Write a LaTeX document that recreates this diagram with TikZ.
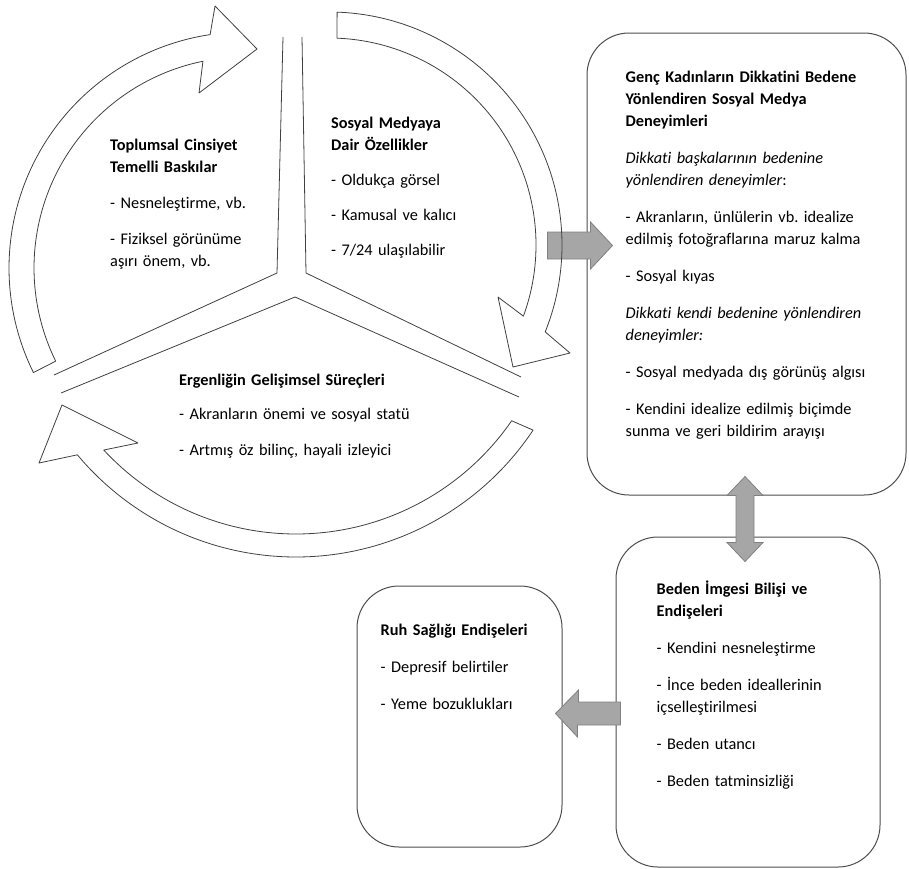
\documentclass[tikz,border=0pt]{standalone}
\usepackage{fontspec}
\setmainfont{Carlito}[Ligatures={TeX,NoCommon}]
\frenchspacing
\usetikzlibrary{positioning,calc}
\definecolor{edge}{HTML}{404040}
\definecolor{cardline}{HTML}{4D4D4D}
\definecolor{blockfill}{HTML}{A6A6A6}
\definecolor{blockline}{HTML}{808080}

\begin{document}
\begin{tikzpicture}[x=1pt,y=-1pt,font=\fontsize{16.3}{22}\selectfont,
            cyc/.style={draw=edge,line width=0.8pt,line join=round},
            card/.style={draw=cardline,line width=1pt,rounded corners=42pt,inner sep=0pt},
            txt/.style={anchor=base west,inner sep=0pt,text width=300pt,align=left},
            blockarr/.style={fill=blockfill,draw=blockline,line width=0.8pt,line join=miter}]
          \useasboundingbox (0,0) rectangle (909,868);
          % boxes
          \node[card,minimum width=319pt,minimum height=462pt] (genc) at (746.5,264) {};
          \node[card,minimum width=264pt,minimum height=330pt] (beden) at (748,702) {};
          \node[card,minimum width=205pt,minimum height=261pt] (ruh) at (459.5,716.5) {};
          \node[txt] (gencT) at ($(genc.north west)+(39,50)$) {\textbf{Genç Kadınların Dikkatini Bedene}\\\textbf{Yönlendiren Sosyal Medya}\\\textbf{Deneyimleri}\\[15pt]
            \textit{Dikkati başkalarının bedenine}\\\textit{yönlendiren deneyimler}:\\[15pt]
            - Akranların, ünlülerin vb. idealize\\edilmiş fotoğraflarına maruz kalma\\[15pt]
            - Sosyal kıyas\\[15pt]
            \textit{Dikkati kendi bedenine yönlendiren}\\\textit{deneyimler:}\\[15pt]
            - Sosyal medyada dış görünüş algısı\\[15pt]
            - Kendini idealize edilmiş biçimde\\sunma ve geri bildirim arayışı};
          \node[txt] (bedenT) at ($(beden.north west)+(41,58)$) {\textbf{Beden İmgesi Bilişi ve}\\\textbf{Endişeleri}\\[15pt]
            - Kendini nesneleştirme\\[15pt]
            - İnce beden ideallerinin\\içselleştirilmesi\\[15pt]
            - Beden utancı\\[15pt]
            - Beden tatminsizliği};
          \node[txt] (ruhT) at ($(ruh.north west)+(24,50)$) {\textbf{Ruh Sağlığı Endişeleri}\\[15pt]
            - Depresif belirtiler\\[15pt]
            - Yeme bozuklukları};
          % grey block arrows
          \draw[blockarr] ($(genc.west)+(-39,-32)$) -- ++(43,0) -- ++(0,-10) -- ++(22,23.5) -- ++(-22,23.5) -- ++(0,-10) -- ++(-43,0) -- cycle;
          \draw[blockarr] ($(genc.south)+(-1.5,-19)$) -- ++(18,19) -- ++(-9,0) -- ($(beden.north)+(6,6)$) -- ++(9,0) -- ++(-18,19)
            -- ++(-18,-19) -- ++(9,0) -- ($(genc.south)+(-10.5,0)$) -- ++(-9,0) -- cycle;
          \draw[blockarr] ($(beden.west)+(5,0)$) -- ++(0,23) -- ++(-43,0) -- ++(0,12) -- ($(ruh.east)+(-7,-3)$) -- ++(23,-23.5) -- ++(0,12) -- cycle;
          % cycle
          \foreach \cx/\cy/\ro/\ri/\sa/\ea/\si/\ei/\ha/\hb/\hc in {
              245/268/236/211/153.7/261.5/153.8/258.5/{(215,6)}/{(257,49)}/{(199,93)},
              329/245/233/207/272/381.9/272.2/380.1/{(570,353)}/{(513,367)}/{(498,297)},
              296/272/285/262/33.7/140.1/34.6/137.2/{(39,463)}/{(62,405)}/{(138,443)}}{
            \draw[cyc] ($(\cx,\cy)+(\sa:\ro)$) arc[start angle=\sa,end angle=\ea,radius=\ro]
              -- \ha -- \hb -- \hc -- ($(\cx,\cy)+(\ei:\ri)$) arc[start angle=\ei,end angle=\si,radius=\ri] -- cycle;}
          \foreach \p/\q/\r in {{(283,37)}/{(277,273)}/{(54,375)},{(302,37)}/{(306,273)}/{(521,377)},{(61,393)}/{(295,297)}/{(519,397)}}
            \draw[cyc] \p -- \q -- \r;
          \node[txt] (toplum) at (110,150) {\textbf{Toplumsal Cinsiyet}\\\textbf{Temelli Baskılar}\\[14pt]
            - Nesneleştirme, vb.\\[14pt]
            - Fiziksel görünüme\\aşırı önem, vb.};
          \node[txt] (sosyal) at (331,128) {\textbf{Sosyal Medyaya}\\\textbf{Dair Özellikler}\\[13pt]
            - Oldukça görsel\\[13pt]
            - Kamusal ve kalıcı\\[13pt]
            - 7/24 ulaşılabilir};
          \node[txt] (ergen) at (179,385) {\textbf{Ergenliğin Gelişimsel Süreçleri}\\[12pt]
            - Akranların önemi ve sosyal statü\\[14pt]
            - Artmış öz bilinç, hayali izleyici};
        \end{tikzpicture}
\end{document}
